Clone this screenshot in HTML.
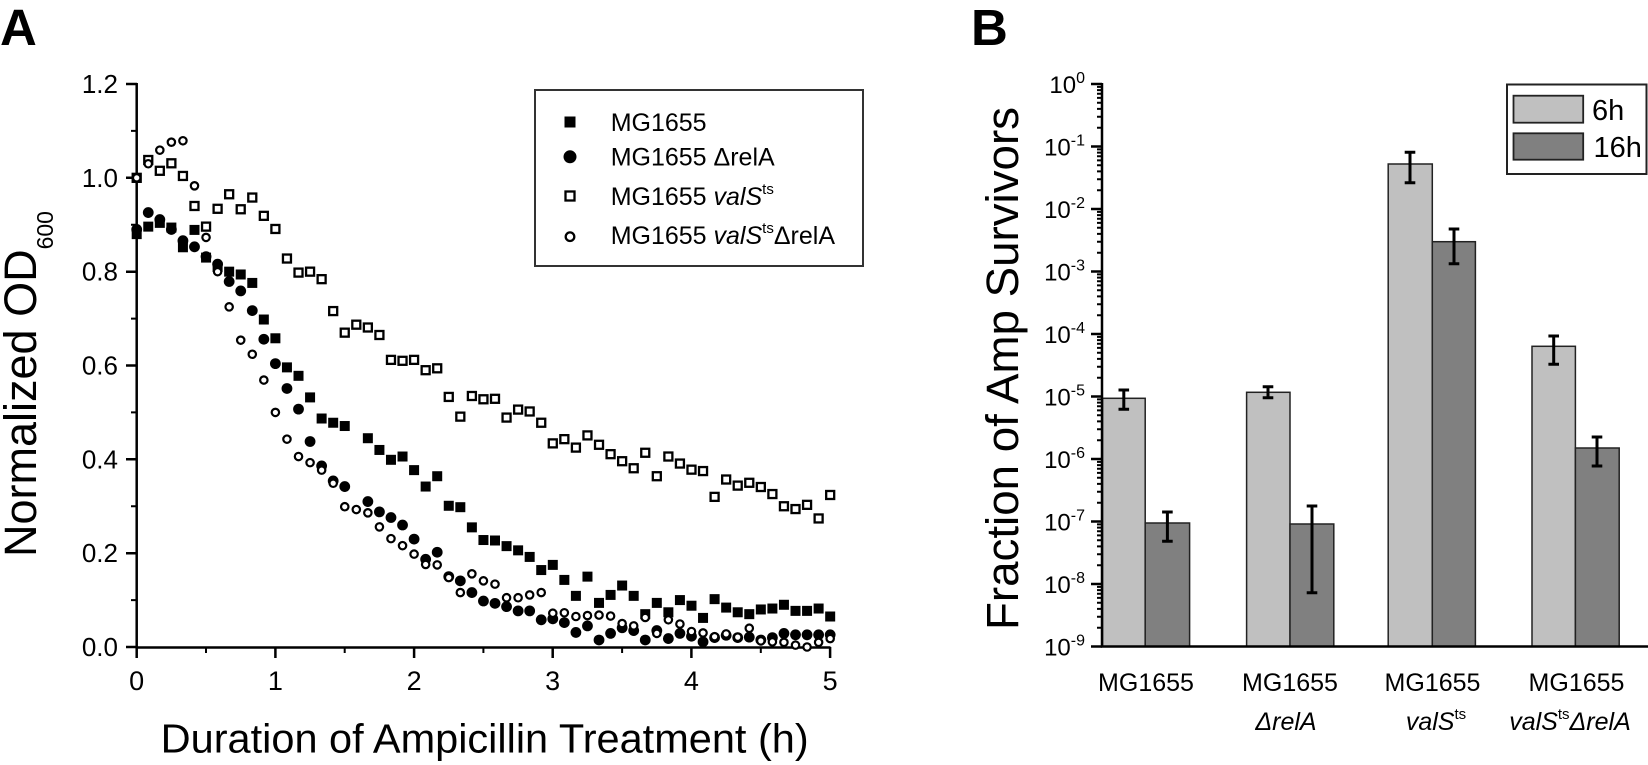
<!DOCTYPE html>
<html><head><meta charset="utf-8"><style>
html,body{margin:0;padding:0;background:#fff;}
svg{display:block;font-family:"Liberation Sans",Arial,sans-serif;}
</style></head><body>
<svg width="1648" height="765" viewBox="0 0 1648 765" xmlns="http://www.w3.org/2000/svg">
<defs>
<g id="fs" transform="scale(.08652 -.0021314)"><rect x="-5" y="-5" width="10" height="10" fill="#000"/></g>
<g id="fc" transform="scale(.08652 -.0021314)"><circle r="5.4" fill="#000"/></g>
<g id="os" transform="scale(.08652 -.0021314)"><rect x="-4" y="-4" width="8" height="8" fill="#fff" stroke="#000" stroke-width="2.3"/></g>
<g id="oc" transform="scale(.08652 -.0021314)"><circle r="3.7" fill="#fff" stroke="#000" stroke-width="2.2"/></g>
<path id="mt" d="M1097 -18.8h5M1097 -29.8h5M1097 -37.6h5M1097 -43.7h5M1097 -48.6h5M1097 -52.8h5M1097 -56.4h5M1097 -59.6h5" stroke="#000" stroke-width="2"/>
</defs>
<rect width="1648" height="765" fill="#fff"/>

<!-- Panel labels -->
<text x="0" y="45" font-size="51" font-weight="bold">A</text>
<text x="971" y="45" font-size="51" font-weight="bold">B</text>

<!-- ===== Panel A axes ===== -->
<g stroke="#000" stroke-width="2.5" fill="none">
<path d="M136.7 83V647.5H830.5"/>
<path d="M126 84h11M126 177.8h11M126 271.7h11M126 365.5h11M126 459.3h11M126 553.2h11M126 647h11"/>
<path d="M131 130.9h6M131 224.7h6M131 318.6h6M131 412.4h6M131 506.2h6M131 600.1h6" stroke-width="2"/>
<path d="M136.7 647v11M275.4 647v11M414.1 647v11M552.7 647v11M691.4 647v11M830.1 647v11"/>
<path d="M206 647v6M344.7 647v6M483.4 647v6M622.1 647v6M760.8 647v6" stroke-width="2"/>
</g>
<g font-size="26" text-anchor="end">
<text x="118" y="93">1.2</text>
<text x="118" y="186.8">1.0</text>
<text x="118" y="280.7">0.8</text>
<text x="118" y="374.5">0.6</text>
<text x="118" y="468.3">0.4</text>
<text x="118" y="562.2">0.2</text>
<text x="118" y="656">0.0</text>
</g>
<g font-size="27" text-anchor="middle">
<text x="136.7" y="690">0</text>
<text x="275.4" y="690">1</text>
<text x="414.1" y="690">2</text>
<text x="552.7" y="690">3</text>
<text x="691.4" y="690">4</text>
<text x="830.1" y="690">5</text>
</g>
<text x="160.7" y="752.7" font-size="41" textLength="648" lengthAdjust="spacingAndGlyphs">Duration of Ampicillin Treatment (h)</text>
<text transform="translate(36 557) rotate(-90)" font-size="45">Normalized OD<tspan font-size="23" dy="17">600</tspan></text>

<!-- Legend A -->
<rect x="535" y="90" width="328" height="176" fill="#fff" stroke="#333" stroke-width="2"/>
<rect x="564.5" y="116.5" width="11" height="11" fill="#000"/>
<circle cx="570" cy="156.8" r="6.5" fill="#000"/>
<rect x="565.5" y="191.5" width="9" height="9" fill="#fff" stroke="#000" stroke-width="2.3"/>
<circle cx="570" cy="236.7" r="4.3" fill="#fff" stroke="#000" stroke-width="2.3"/>
<g font-size="25">
<text x="610.7" y="131">MG1655</text>
<text x="610.7" y="165.5">MG1655 ΔrelA</text>
<text x="610.7" y="205">MG1655 <tspan font-style="italic">valS</tspan><tspan font-size="15" dy="-11">ts</tspan></text>
<text x="610.7" y="244">MG1655 <tspan font-style="italic">valS</tspan><tspan font-size="15" dy="-11">ts</tspan><tspan dy="11">ΔrelA</tspan></text>
</g>

<!-- Data A -->
<g transform="translate(136.7 647) scale(11.558 -469.17)">
<!-- filled squares -->
<use href="#fs" x="0" y=".88"/><use href="#fs" x="1" y=".896"/><use href="#fs" x="2" y=".904"/><use href="#fs" x="3" y=".894"/><use href="#fs" x="4" y=".852"/><use href="#fs" x="5" y=".889"/><use href="#fs" x="6" y=".83"/><use href="#fs" x="7" y=".81"/><use href="#fs" x="8" y=".8"/><use href="#fs" x="9" y=".794"/><use href="#fs" x="10" y=".776"/><use href="#fs" x="11" y=".698"/><use href="#fs" x="12" y=".658"/><use href="#fs" x="13" y=".596"/><use href="#fs" x="14" y=".578"/><use href="#fs" x="15" y=".532"/><use href="#fs" x="16" y=".487"/><use href="#fs" x="17" y=".478"/><use href="#fs" x="18" y=".471"/><use href="#fs" x="20" y=".445"/><use href="#fs" x="21" y=".42"/><use href="#fs" x="22" y=".399"/><use href="#fs" x="23" y=".406"/><use href="#fs" x="24" y=".377"/><use href="#fs" x="25" y=".342"/><use href="#fs" x="26" y=".364"/><use href="#fs" x="27" y=".301"/><use href="#fs" x="28" y=".298"/><use href="#fs" x="29" y=".255"/><use href="#fs" x="30" y=".228"/><use href="#fs" x="31" y=".227"/><use href="#fs" x="32" y=".215"/><use href="#fs" x="33" y=".206"/><use href="#fs" x="34" y=".192"/><use href="#fs" x="35" y=".164"/><use href="#fs" x="36" y=".175"/><use href="#fs" x="37" y=".143"/><use href="#fs" x="38" y=".109"/><use href="#fs" x="39" y=".15"/><use href="#fs" x="40" y=".094"/><use href="#fs" x="41" y=".111"/><use href="#fs" x="42" y=".131"/><use href="#fs" x="43" y=".109"/><use href="#fs" x="44" y=".07"/><use href="#fs" x="45" y=".094"/><use href="#fs" x="46" y=".074"/><use href="#fs" x="47" y=".1"/><use href="#fs" x="48" y=".088"/><use href="#fs" x="49" y=".062"/><use href="#fs" x="50" y=".102"/><use href="#fs" x="51" y=".084"/><use href="#fs" x="52" y=".074"/><use href="#fs" x="53" y=".07"/><use href="#fs" x="54" y=".08"/><use href="#fs" x="55" y=".082"/><use href="#fs" x="56" y=".09"/><use href="#fs" x="57" y=".077"/><use href="#fs" x="58" y=".077"/><use href="#fs" x="59" y=".082"/><use href="#fs" x="60" y=".065"/>
<!-- filled circles -->
<use href="#fc" x="0" y=".89"/><use href="#fc" x="1" y=".926"/><use href="#fc" x="2" y=".911"/><use href="#fc" x="3" y=".89"/><use href="#fc" x="4" y=".866"/><use href="#fc" x="5" y=".853"/><use href="#fc" x="6" y=".832"/><use href="#fc" x="7" y=".816"/><use href="#fc" x="8" y=".779"/><use href="#fc" x="9" y=".759"/><use href="#fc" x="10" y=".717"/><use href="#fc" x="11" y=".656"/><use href="#fc" x="12" y=".604"/><use href="#fc" x="13" y=".551"/><use href="#fc" x="14" y=".507"/><use href="#fc" x="15" y=".438"/><use href="#fc" x="16" y=".386"/><use href="#fc" x="17" y=".354"/><use href="#fc" x="18" y=".342"/><use href="#fc" x="20" y=".31"/><use href="#fc" x="21" y=".288"/><use href="#fc" x="22" y=".276"/><use href="#fc" x="23" y=".26"/><use href="#fc" x="24" y=".23"/><use href="#fc" x="25" y=".187"/><use href="#fc" x="26" y=".202"/><use href="#fc" x="27" y=".15"/><use href="#fc" x="28" y=".141"/><use href="#fc" x="29" y=".116"/><use href="#fc" x="30" y=".098"/><use href="#fc" x="31" y=".093"/><use href="#fc" x="32" y=".086"/><use href="#fc" x="33" y=".077"/><use href="#fc" x="34" y=".077"/><use href="#fc" x="35" y=".058"/><use href="#fc" x="36" y=".06"/><use href="#fc" x="37" y=".052"/><use href="#fc" x="38" y=".031"/><use href="#fc" x="39" y=".045"/><use href="#fc" x="40" y=".015"/><use href="#fc" x="41" y=".029"/><use href="#fc" x="42" y=".041"/><use href="#fc" x="43" y=".035"/><use href="#fc" x="44" y=".015"/><use href="#fc" x="45" y=".035"/><use href="#fc" x="46" y=".018"/><use href="#fc" x="47" y=".029"/><use href="#fc" x="48" y=".023"/><use href="#fc" x="49" y=".011"/><use href="#fc" x="50" y=".02"/><use href="#fc" x="51" y=".025"/><use href="#fc" x="52" y=".02"/><use href="#fc" x="53" y=".021"/><use href="#fc" x="54" y=".015"/><use href="#fc" x="55" y=".02"/><use href="#fc" x="56" y=".029"/><use href="#fc" x="57" y=".026"/><use href="#fc" x="58" y=".026"/><use href="#fc" x="59" y=".026"/><use href="#fc" x="60" y=".026"/>
<!-- open squares -->
<use href="#os" x="0" y="1.0"/><use href="#os" x="1" y="1.038"/><use href="#os" x="2" y="1.015"/><use href="#os" x="3" y="1.031"/><use href="#os" x="4" y="1.004"/><use href="#os" x="5" y=".94"/><use href="#os" x="6" y=".896"/><use href="#os" x="7" y=".934"/><use href="#os" x="8" y=".965"/><use href="#os" x="9" y=".933"/><use href="#os" x="10" y=".958"/><use href="#os" x="11" y=".919"/><use href="#os" x="12" y=".891"/><use href="#os" x="13" y=".828"/><use href="#os" x="14" y=".798"/><use href="#os" x="15" y=".8"/><use href="#os" x="16" y=".784"/><use href="#os" x="17" y=".716"/><use href="#os" x="18" y=".67"/><use href="#os" x="19" y=".687"/><use href="#os" x="20" y=".681"/><use href="#os" x="21" y=".665"/><use href="#os" x="22" y=".612"/><use href="#os" x="23" y=".61"/><use href="#os" x="24" y=".612"/><use href="#os" x="25" y=".59"/><use href="#os" x="26" y=".594"/><use href="#os" x="27" y=".533"/><use href="#os" x="28" y=".491"/><use href="#os" x="29" y=".535"/><use href="#os" x="30" y=".528"/><use href="#os" x="31" y=".529"/><use href="#os" x="32" y=".489"/><use href="#os" x="33" y=".506"/><use href="#os" x="34" y=".502"/><use href="#os" x="35" y=".478"/><use href="#os" x="36" y=".434"/><use href="#os" x="37" y=".443"/><use href="#os" x="38" y=".425"/><use href="#os" x="39" y=".451"/><use href="#os" x="40" y=".431"/><use href="#os" x="41" y=".411"/><use href="#os" x="42" y=".396"/><use href="#os" x="43" y=".381"/><use href="#os" x="44" y=".414"/><use href="#os" x="45" y=".364"/><use href="#os" x="46" y=".406"/><use href="#os" x="47" y=".391"/><use href="#os" x="48" y=".378"/><use href="#os" x="49" y=".375"/><use href="#os" x="50" y=".32"/><use href="#os" x="51" y=".357"/><use href="#os" x="52" y=".344"/><use href="#os" x="53" y=".35"/><use href="#os" x="54" y=".341"/><use href="#os" x="55" y=".326"/><use href="#os" x="56" y=".3"/><use href="#os" x="57" y=".294"/><use href="#os" x="58" y=".303"/><use href="#os" x="59" y=".274"/><use href="#os" x="60" y=".324"/>
<!-- open circles -->
<use href="#oc" x="0" y="1.0"/><use href="#oc" x="1" y="1.03"/><use href="#oc" x="2" y="1.059"/><use href="#oc" x="3" y="1.076"/><use href="#oc" x="4" y="1.079"/><use href="#oc" x="5" y=".983"/><use href="#oc" x="6" y=".873"/><use href="#oc" x="7" y=".8"/><use href="#oc" x="8" y=".725"/><use href="#oc" x="9" y=".654"/><use href="#oc" x="10" y=".624"/><use href="#oc" x="11" y=".569"/><use href="#oc" x="12" y=".5"/><use href="#oc" x="13" y=".443"/><use href="#oc" x="14" y=".406"/><use href="#oc" x="15" y=".393"/><use href="#oc" x="16" y=".377"/><use href="#oc" x="17" y=".349"/><use href="#oc" x="18" y=".299"/><use href="#oc" x="19" y=".293"/><use href="#oc" x="20" y=".286"/><use href="#oc" x="21" y=".256"/><use href="#oc" x="22" y=".231"/><use href="#oc" x="23" y=".216"/><use href="#oc" x="24" y=".198"/><use href="#oc" x="25" y=".176"/><use href="#oc" x="26" y=".175"/><use href="#oc" x="27" y=".148"/><use href="#oc" x="28" y=".116"/><use href="#oc" x="29" y=".156"/><use href="#oc" x="30" y=".141"/><use href="#oc" x="31" y=".134"/><use href="#oc" x="32" y=".105"/><use href="#oc" x="33" y=".105"/><use href="#oc" x="34" y=".111"/><use href="#oc" x="35" y=".116"/><use href="#oc" x="36" y=".072"/><use href="#oc" x="37" y=".073"/><use href="#oc" x="38" y=".065"/><use href="#oc" x="39" y=".067"/><use href="#oc" x="40" y=".068"/><use href="#oc" x="41" y=".066"/><use href="#oc" x="42" y=".05"/><use href="#oc" x="43" y=".045"/><use href="#oc" x="44" y=".063"/><use href="#oc" x="45" y=".029"/><use href="#oc" x="46" y=".058"/><use href="#oc" x="47" y=".049"/><use href="#oc" x="48" y=".033"/><use href="#oc" x="49" y=".03"/><use href="#oc" x="50" y=".022"/><use href="#oc" x="51" y=".028"/><use href="#oc" x="52" y=".021"/><use href="#oc" x="53" y=".04"/><use href="#oc" x="54" y=".013"/><use href="#oc" x="55" y=".011"/><use href="#oc" x="56" y=".01"/><use href="#oc" x="57" y=".004"/><use href="#oc" x="58" y=".0"/><use href="#oc" x="59" y=".01"/><use href="#oc" x="60" y=".018"/>
</g>

<!-- ===== Panel B ===== -->
<!-- bars -->
<g stroke="#222" stroke-width="1.5">
<rect x="1102.5" y="398.3" width="42.7" height="248.2" fill="#c0c0c0"/>
<rect x="1145.2" y="523" width="44.4" height="123.5" fill="#808080"/>
<rect x="1246.6" y="392.3" width="43.4" height="254.2" fill="#c0c0c0"/>
<rect x="1290" y="524" width="43.8" height="122.5" fill="#808080"/>
<rect x="1388.2" y="164" width="44.1" height="482.5" fill="#c0c0c0"/>
<rect x="1432.3" y="241.7" width="43.1" height="404.8" fill="#808080"/>
<rect x="1532" y="346.3" width="43.4" height="300.2" fill="#c0c0c0"/>
<rect x="1575.4" y="448" width="43.8" height="198.5" fill="#808080"/>
</g>
<!-- error bars -->
<g stroke="#000" stroke-width="3" fill="none">
<path d="M1123.8 390V409.3M1118.5 390h10.6M1118.5 409.3h10.6"/>
<path d="M1167.4 512V541.3M1162.1 512h10.6M1162.1 541.3h10.6"/>
<path d="M1268 386.7V397.7M1262.7 386.7h10.6M1262.7 397.7h10.6"/>
<path d="M1312 506V592.7M1306.7 506h10.6M1306.7 592.7h10.6"/>
<path d="M1410 152.3V182.7M1404.7 152.3h10.6M1404.7 182.7h10.6"/>
<path d="M1454 229V263.7M1448.7 229h10.6M1448.7 263.7h10.6"/>
<path d="M1553.7 336V364.3M1548.4 336h10.6M1548.4 364.3h10.6"/>
<path d="M1597 437V466M1591.7 437h10.6M1591.7 466h10.6"/>
</g>
<!-- axes B -->
<g stroke="#000" fill="none">
<path d="M1102 83V646.5H1648" stroke-width="2.5"/>
<path d="M1091 84h11M1091 146.5h11M1091 209h11M1091 271.5h11M1091 334h11M1091 396.5h11M1091 459h11M1091 521.5h11M1091 584h11M1091 646.5h11" stroke-width="2.5"/>
</g>
<use href="#mt" y="146.5"/><use href="#mt" y="209"/><use href="#mt" y="271.5"/><use href="#mt" y="334"/><use href="#mt" y="396.5"/><use href="#mt" y="459"/><use href="#mt" y="521.5"/><use href="#mt" y="584"/><use href="#mt" y="646.5"/>
<g font-size="24" text-anchor="end">
<text x="1085" y="93">10<tspan font-size="16" dy="-10">0</tspan></text>
<text x="1085" y="155.5">10<tspan font-size="16" dy="-10">-1</tspan></text>
<text x="1085" y="218">10<tspan font-size="16" dy="-10">-2</tspan></text>
<text x="1085" y="280.5">10<tspan font-size="16" dy="-10">-3</tspan></text>
<text x="1085" y="343">10<tspan font-size="16" dy="-10">-4</tspan></text>
<text x="1085" y="405.5">10<tspan font-size="16" dy="-10">-5</tspan></text>
<text x="1085" y="468">10<tspan font-size="16" dy="-10">-6</tspan></text>
<text x="1085" y="530.5">10<tspan font-size="16" dy="-10">-7</tspan></text>
<text x="1085" y="593">10<tspan font-size="16" dy="-10">-8</tspan></text>
<text x="1085" y="655.5">10<tspan font-size="16" dy="-10">-9</tspan></text>
</g>
<text transform="translate(1018 630) rotate(-90)" font-size="45" textLength="523" lengthAdjust="spacingAndGlyphs">Fraction of Amp Survivors</text>
<g font-size="25" text-anchor="middle">
<text x="1146" y="691">MG1655</text>
<text x="1290" y="691">MG1655</text>
<text x="1432.5" y="691">MG1655</text>
<text x="1576.5" y="691">MG1655</text>
<text x="1286" y="730" font-style="italic">ΔrelA</text>
<text x="1436" y="730"><tspan font-style="italic">valS</tspan><tspan font-size="15" dy="-11">ts</tspan></text>
<text x="1570" y="730"><tspan font-style="italic">valS</tspan><tspan font-size="15" dy="-11">ts</tspan><tspan font-style="italic" dy="11">ΔrelA</tspan></text>
</g>
<!-- Legend B -->
<rect x="1507" y="84.5" width="139.5" height="89.5" fill="#fff" stroke="#222" stroke-width="2"/>
<rect x="1513.5" y="95.7" width="69.7" height="27" fill="#c0c0c0" stroke="#222" stroke-width="1.8"/>
<rect x="1513.5" y="133.3" width="69.7" height="26.4" fill="#808080" stroke="#222" stroke-width="1.8"/>
<text x="1592" y="120" font-size="29">6h</text>
<text x="1593.5" y="157" font-size="29">16h</text>
</svg>
</body></html>
